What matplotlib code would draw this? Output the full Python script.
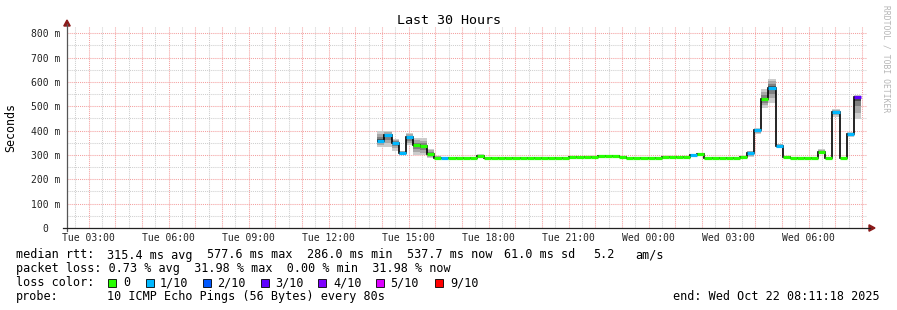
import numpy as np
import pandas as pd
import matplotlib
matplotlib.use("Agg")
import matplotlib.pyplot as plt
import matplotlib.dates as mdates
from matplotlib.patches import Rectangle, Polygon
from matplotlib.lines import Line2D

# ---------------- data ----------------
title = "Last 30 Hours"
range_start = "2025-10-21 02:11:18"
range_end = "2025-10-22 08:11:18"
data_start = "2025-10-21 13:49:30"
bin_minutes = 16

median_ms = [358, 381, 350, 309, 372, 340, 335, 306, 289, 286,
             286, 286, 286, 286, 297, 286, 286, 286, 286, 286,
             286, 286, 286, 286, 286, 286, 286, 290, 290, 290,
             292, 295, 295, 295, 292, 287, 287, 287, 287, 289,
             290, 290, 290, 290, 299, 303, 288, 288, 288, 288,
             288, 290, 309, 401, 529, 577, 336, 291, 288, 288,
             288, 288, 312, 288, 476, 288, 386, 537]
loss_count = [1, 1, 1, 1, 1, 0, 0, 0, 0, 1,
              0, 0, 0, 0, 0, 0, 0, 0, 0, 0,
              0, 0, 0, 0, 0, 0, 0, 0, 0, 0,
              0, 0, 0, 0, 0, 0, 0, 0, 0, 0,
              0, 0, 0, 0, 1, 0, 0, 0, 0, 0,
              0, 0, 1, 1, 0, 1, 1, 0, 0, 0,
              0, 0, 0, 0, 1, 0, 1, 3]
smoke_lo_ms = [333, 333, 317, 298, 340, 299, 299, 288, 283, 284,
               286, 286, 286, 286, 291, 286, 286, 286, 286, 286,
               286, 286, 286, 286, 286, 286, 286, 290, 290, 290,
               292, 294, 294, 294, 292, 287, 287, 287, 287, 289,
               290, 290, 290, 290, 293, 296, 288, 288, 288, 288,
               288, 290, 293, 386, 494, 514, 329, 291, 288, 288,
               288, 288, 306, 288, 457, 288, 372, 446]
smoke_hi_ms = [397, 398, 365, 317, 391, 368, 368, 324, 297, 290,
               287, 287, 287, 287, 304, 287, 287, 287, 287, 287,
               287, 287, 287, 287, 287, 287, 287, 291, 291, 291,
               293, 297, 297, 297, 293, 288, 288, 288, 288, 290,
               291, 291, 291, 291, 303, 308, 289, 289, 289, 289,
               289, 291, 317, 409, 570, 614, 347, 292, 289, 289,
               289, 289, 323, 289, 491, 289, 395, 546]

loss_levels = [0, 1, 2, 3, 4, 5, 9]
loss_labels = ["0", "1/10", "2/10", "3/10", "4/10", "5/10", "9/10"]
loss_colors = ["#26ff00", "#00b8ff", "#0059ff", "#5e00ff", "#7e00ff", "#dd00ff", "#ff0000"]

y_ticks = [0, 100, 200, 300, 400, 500, 600, 700, 800]
y_tick_labels = ["0  ", "100 m", "200 m", "300 m", "400 m", "500 m", "600 m", "700 m", "800 m"]
x_tick_times = ["2025-10-21 03:00", "2025-10-21 06:00", "2025-10-21 09:00", "2025-10-21 12:00",
                "2025-10-21 15:00", "2025-10-21 18:00", "2025-10-21 21:00", "2025-10-22 00:00",
                "2025-10-22 03:00", "2025-10-22 06:00"]
x_tick_labels = ["Tue 03:00", "Tue 06:00", "Tue 09:00", "Tue 12:00", "Tue 15:00", "Tue 18:00",
                 "Tue 21:00", "Wed 00:00", "Wed 03:00", "Wed 06:00"]

legend_rows = [
    [("median rtt:", 16), ("315.4 ms avg", 107), ("577.6 ms max", 207), ("286.0 ms min", 307),
     ("537.7 ms now", 407), ("61.0 ms sd", 504), ("5.2", 593), ("am/s", 635)],
    [("packet loss: 0.73 % avg  31.98 % max  0.00 % min  31.98 % now", 16)],
    [("loss color:", 16)],
    [("probe:", 16), ("10 ICMP Echo Pings (56 Bytes) every 80s", 107)],
]
end_text = "end: Wed Oct 22 08:11:18 2025"
y_label = "Seconds"
watermark = "RRDTOOL / TOBI OETIKER"

# ---------------- figure ----------------
W, H = 897, 310
MONO = "DejaVu Sans Mono"
plt.rcParams["font.family"] = [MONO]

fig = plt.figure(figsize=(W / 100, H / 100), dpi=100)
fig.patch.set_facecolor("white")

def fx(x):
    return x / W

def fy(y):
    return 1 - y / H

ax_l, ax_r, ax_t, ax_b = 67, 867, 26, 228
ax = fig.add_axes([fx(ax_l), fy(ax_b), (ax_r - ax_l) / W, (ax_b - ax_t) / H])
ax.set_facecolor("white")
for s in ax.spines.values():
    s.set_visible(False)

t0 = pd.Timestamp(range_start)
t1 = pd.Timestamp(range_end)
ax.set_xlim(mdates.date2num(t0), mdates.date2num(t1))
ax.set_ylim(0, 830)

# grid
grid_times = pd.date_range("2025-10-21 02:30", t1, freq="30min")
for t in grid_times:
    major = (t.minute == 0)
    ax.axvline(mdates.date2num(t), color="#f4a0a0" if major else "#cfcfcf", lw=0.75,
               linestyle=(0, (1, 1)), zorder=0)
for v in range(50, 830, 50):
    major = (v % 100 == 0)
    ax.axhline(v, color="#f4a0a0" if major else "#cfcfcf", lw=0.75,
               linestyle=(0, (1, 1)), zorder=0)

# data
edges = pd.date_range(data_start, periods=len(median_ms) + 1, freq=f"{bin_minutes}min")
ex = mdates.date2num(edges)
med = np.array(median_ms, float)
lo = np.array(smoke_lo_ms, float)
hi = np.array(smoke_hi_ms, float)
widths = np.diff(ex)

# smoke (layered shades around the median)
for frac, col in [(1.0, "#cccccc"), (0.7, "#a8a8a8"), (0.4, "#808080"), (0.15, "#4a4a4a")]:
    l = med - frac * (med - lo)
    h = med + frac * (hi - med)
    ax.bar(ex[:-1], h - l, bottom=l, width=widths, align="edge", color=col,
           linewidth=0, zorder=2)

# median step line
ax.stairs(med, ex, baseline=None, color="black", lw=1.2, zorder=3)
cmap = dict(zip(loss_levels, loss_colors))
seg_cols = [cmap[c] for c in loss_count]
ax.hlines(med, ex[:-1], ex[1:], colors=seg_cols, lw=2.3, zorder=4, capstyle="butt")

# ticks
ax.set_yticks(y_ticks)
ax.set_yticklabels(y_tick_labels, fontsize=7, color="#222222")
ax.set_xticks(mdates.date2num(pd.to_datetime(x_tick_times)))
ax.set_xticklabels(x_tick_labels, fontsize=7, color="#222222")
ax.tick_params(axis="both", length=0)
ax.tick_params(axis="y", pad=4.5)
ax.tick_params(axis="x", pad=3.5)

# axes lines with arrows
axis_col = "#555555"
arrow_col = "#8b1a1a"
fig.add_artist(Line2D([fx(67), fx(67)], [fy(231), fy(24)], color=axis_col, lw=0.9,
                      transform=fig.transFigure))
fig.add_artist(Line2D([fx(63), fx(870)], [fy(228), fy(228)], color="#222222", lw=0.9,
                      transform=fig.transFigure))
fig.add_artist(Polygon([[fx(67), fy(20)], [fx(63.8), fy(26)], [fx(70.2), fy(26)]],
                       closed=True, color=arrow_col, transform=fig.transFigure))
fig.add_artist(Polygon([[fx(875), fy(228)], [fx(869), fy(224.8)], [fx(869), fy(231.2)]],
                       closed=True, color=arrow_col, transform=fig.transFigure))

# title, labels, watermark
fig.text(0.5, fy(24), title, ha="center", va="baseline", fontsize=9.6, color="black")
fig.text(fx(11), fy(127), y_label, rotation=90, ha="center", va="center", fontsize=8.4,
         color="black")
fig.text(fx(886), fy(59), watermark, rotation=270, ha="center", va="center", fontsize=5.8,
         color="#b5b5b5")

# legend
baselines = [258.5, 272.3, 286.3, 300.3]
for row, yb in zip(legend_rows, baselines):
    for txt, x in row:
        fig.text(fx(x), fy(yb), txt, ha="left", va="baseline", fontsize=8.45, color="black")

sq_x = [108, 146, 203, 261, 318, 376, 435]
lab_x = [123, 160, 217, 275, 333, 390, 450]
for x, lx, col, lab in zip(sq_x, lab_x, loss_colors, loss_labels):
    fig.add_artist(Rectangle((fx(x), fy(286.5)), 7.5 / W, 7.5 / H, facecolor=col,
                             edgecolor="black", lw=0.6, transform=fig.transFigure))
    fig.text(fx(lx), fy(286.3), lab, ha="left", va="baseline", fontsize=8.45, color="black")

fig.text(fx(880), fy(300.3), end_text, ha="right", va="baseline", fontsize=8.45, color="black")

fig.savefig("out.png", dpi=100, facecolor="white")
